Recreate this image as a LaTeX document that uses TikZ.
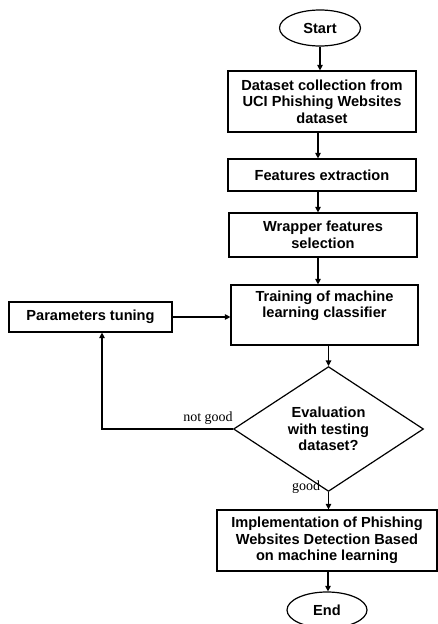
\documentclass[tikz,border=0pt]{standalone}
\usepackage{fontspec}
\setmainfont{Liberation Sans}
\newfontfamily\labelfont{Liberation Serif}
\usetikzlibrary{shapes.geometric,arrows.meta}
\begin{document}
\begin{tikzpicture}[x=1pt,y=-1pt,line width=1.2pt,
    font=\fontsize{14.6}{16.5}\selectfont\bfseries,
    stepbox/.style={shape=rectangle,draw=black,align=center,inner sep=0pt},
    terminal/.style={shape=ellipse,draw=black,inner sep=0pt,minimum width=81pt,minimum height=36pt},
    decision/.style={shape=diamond,draw=black,align=center,inner sep=0pt,minimum width=190pt,minimum height=113pt},
    flow/.style={-{Triangle[width=5.5pt,length=5.5pt]}},
    answer/.style={font=\labelfont\fontsize{14}{16}\selectfont}]
    \useasboundingbox (0,0) rectangle (438,624);
    \node[terminal] (start) at (320,28) {Start};
    \node[stepbox,minimum width=188pt,minimum height=61pt] (data) at (322,101.5) {Dataset collection from\\UCI Phishing Websites\\dataset};
    \node[stepbox,minimum width=188pt,minimum height=32pt] (feat) at (322,175) {Features extraction};
    \node[stepbox,minimum width=188pt,minimum height=44pt] (wrap) at (323,235) {Wrapper features\\selection};
    \node[stepbox,minimum width=187pt,minimum height=60pt] (train) at (324.5,315) {Training of machine\\learning classifier\\\strut};
    \node[stepbox,minimum width=163pt,minimum height=30pt] (params) at (90.5,317) {Parameters tuning};
    \node[decision] (eval) at (328.5,429) {Evaluation\\with testing\\dataset?};
    \node[stepbox,minimum width=220pt,minimum height=61pt] (impl) at (327,540.5) {Implementation of Phishing\\Websites Detection Based\\on machine learning};
    \node[terminal,minimum width=80pt] (end) at (327,610) {End};
    \coordinate (bend) at (102,429);
    \draw[flow] (start) -- (start |- data.north);
    \draw[flow] ([xshift=-4pt]data.south) -- ([xshift=-4pt]data.south |- feat.north);
    \draw[flow] ([xshift=-4pt]feat.south) -- ([xshift=-4pt]feat.south |- wrap.north);
    \draw[flow] ([xshift=-5pt]wrap.south) -- ([xshift=-5pt]wrap.south |- train.north);
    \draw[flow] (params.east) -- (params.east -| train.west);
    \draw[flow] ([xshift=4pt]train.south) -- (eval.north);
    \draw[flow] (eval.west) -- (bend) -- (bend |- params.south);
    \draw[flow] (eval.south) -- (eval.south |- impl.north);
    \draw[flow] ([xshift=1pt]impl.south) -- ([xshift=1pt]impl.south |- end.north);
    \node[answer] (notgood) at (208,418) {not good};
    \node[answer] (good) at (306,487) {good};
\end{tikzpicture}
\end{document}
